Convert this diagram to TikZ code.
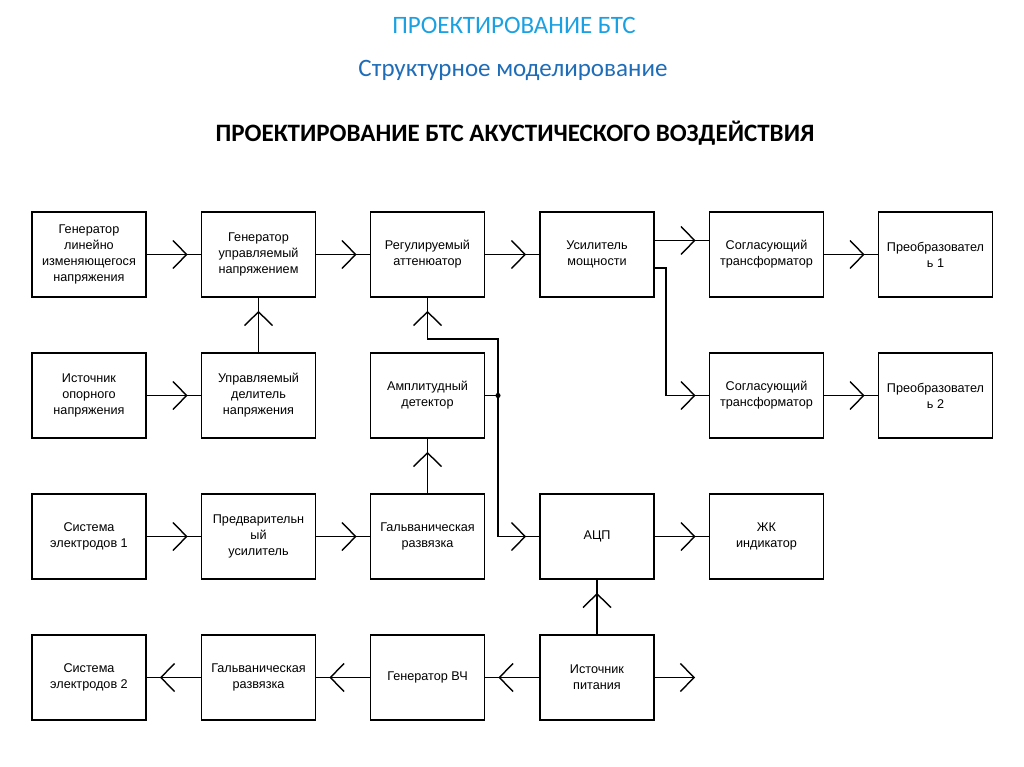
\documentclass[tikz,border=0pt]{standalone}
\usepackage{fontspec}
\setmainfont{Liberation Sans}
\newfontfamily\titlefont{Carlito}
\usepackage{tikz}
\usetikzlibrary{arrows.meta,decorations.markings}
\definecolor{titleblue}{HTML}{1BA1E2}
\definecolor{subblue}{HTML}{1F6DB8}
\tikzset{
  blk/.style={draw,line width=1pt,minimum width=2.85cm,minimum height=2.125cm,align=center,
    font=\fontsize{9}{11.4}\selectfont},
  barb/.tip={Straight Barb[length=3.4mm,width=7mm]},
  flow/.style={draw,line width=1pt,postaction={decorate},
    decoration={markings,mark=at position -3.3mm with {\arrow{barb}}}}
}
\begin{document}
\begin{tikzpicture}[x=0.025cm,y=-0.025cm]
\useasboundingbox(0,0) rectangle (1024,767);
\node[font=\titlefont\fontsize{17.8}{20}\selectfont,text=titleblue](t1) at (514,25){ПРОЕКТИРОВАНИЕ БТС};
\node[font=\titlefont\fontsize{17.8}{20}\selectfont,text=subblue](t2) at (513,70){Структурное моделирование};
\node[font=\titlefont\bfseries\fontsize{17.8}{20}\selectfont](t3) at (515,133){ПРОЕКТИРОВАНИЕ БТС АКУСТИЧЕСКОГО ВОЗДЕЙСТВИЯ};
% row 1
\node[blk](gen) at (89,254.5){Генератор\\линейно\\изменяющегося\\напряжения};
\node[blk](gvc) at (258.5,254.5){Генератор\\управляемый\\напряжением};
\node[blk](att) at (427.5,254.5){Регулируемый\\аттенюатор};
\node[blk](amp) at (597,254.5){Усилитель\\мощности};
\node[blk](tr1) at (766.5,254.5){Согласующий\\трансформатор};
\node[blk](pr1) at (935.5,254.5){Преобразовател\\ь 1};
% row 2
\node[blk](ref) at (89,395.5){Источник\\опорного\\напряжения};
\node[blk](div) at (258.5,395.5){Управляемый\\делитель\\напряжения};
\node[blk](det) at (427.5,395.5){Амплитудный\\детектор};
\node[blk](tr2) at (766.5,395.5){Согласующий\\трансформатор};
\node[blk](pr2) at (935.5,395.5){Преобразовател\\ь 2};
% row 3
\node[blk](el1) at (89,536.5){Система\\электродов 1};
\node[blk](pre) at (258.5,536.5){Предварительн\\ый\\усилитель};
\node[blk](gr1) at (427.5,536.5){Гальваническая\\развязка};
\node[blk](adc) at (597,536.5){АЦП};
\node[blk](lcd) at (766.5,536.5){ЖК\\индикатор};
% row 4
\node[blk](el2) at (89,677.5){Система\\электродов 2};
\node[blk](gr2) at (258.5,677.5){Гальваническая\\развязка};
\node[blk](hf) at (427.5,677.5){Генератор ВЧ};
\node[blk](pwr) at (597,677.5){Источник\\питания};
\coordinate(br) at (666,268);
\coordinate(jn) at (498,395.5);
\coordinate(fb) at (498,339);
\coordinate(out) at (695,677.5);
% links
\path[flow](gen)--(gvc);
\path[flow](gvc)--(att);
\path[flow](att)--(amp);
\path[flow]([yshift=0.35cm]amp.east)--([yshift=0.35cm]tr1.west);
\path[flow](amp.east|-br)--(br)|-(tr2.west);
\path[flow](tr1)--(pr1);
\path[flow](tr2)--(pr2);
\path[flow](ref)--(div);
\path[flow](div)--(gvc);
\path[draw,line width=1pt](det.east)--(jn);
\fill(jn) circle (1.8pt);
\path[flow](jn)--(fb)-|(att.south);
\path[flow](jn)|-(adc.west);
\path[flow](el1)--(pre);
\path[flow](pre)--(gr1);
\path[flow](gr1)--(det);
\path[flow](adc)--(lcd);
\path[flow](pwr)--(adc);
\path[flow](pwr)--(hf);
\path[flow](hf)--(gr2);
\path[flow](gr2)--(el2);
\path[draw,line width=1pt,-{barb}](pwr.east)--(out);
\end{tikzpicture}
\end{document}
